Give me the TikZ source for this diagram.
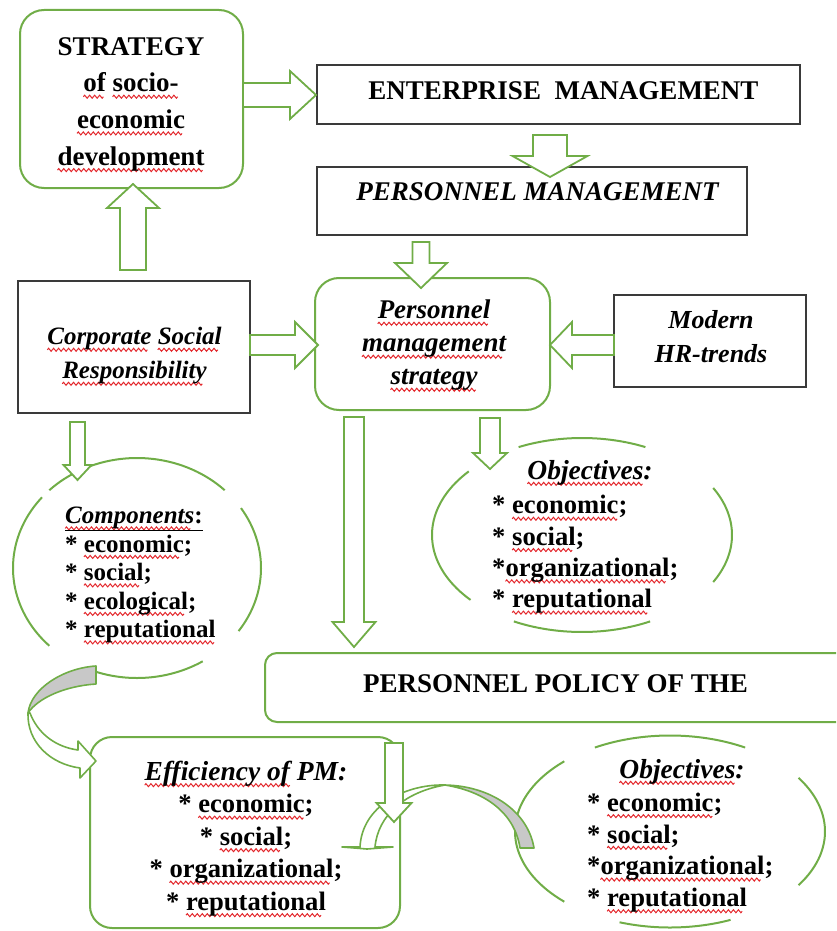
\documentclass[tikz,border=0pt]{standalone}
\usepackage{fontspec}
\setmainfont{Liberation Serif}
\usetikzlibrary{calc}
\definecolor{grn}{HTML}{70AD47}
\definecolor{wred}{HTML}{E3262B}
\definecolor{boxk}{HTML}{3A3A3A}
\definecolor{band}{HTML}{C8C8C8}

% one period of the red spell-check wave, repeated under a word
\newsavebox\wavebox
\newcommand\wv[1]{\setbox0\hbox{#1}\rlap{\raisebox{-4.8pt}[0pt][0pt]{\hbox to \wd0{\leaders\copy\wavebox\hfill}}}\box0\relax}

\tikzset{
  gbox/.style={draw=grn, line width=2pt, fill=white},
  kbox/.style={draw=boxk, line width=1.2pt, fill=white},
  gline/.style={draw=grn, line width=2pt},
  barrow/.style={draw=grn, line width=1.8pt, fill=white, line join=miter},
  cband/.style={draw=grn, line width=1.6pt, line join=round},
  txt/.style={inner sep=0pt, text=black, font=\bfseries\fontsize{27}{31}\selectfont},
  pics/blockarrow/.style args={#1/#2/#3/#4}{code={
    \draw[barrow] (0,-#2) -- ({#1-#4},-#2) -- ({#1-#4},-#3) -- (#1,0)
      -- ({#1-#4},#3) -- ({#1-#4},#2) -- (0,#2) -- cycle;
  }},
}

\begin{document}
\sbox\wavebox{\begin{pgfpicture}
  \pgfpathrectanglecorners{\pgfpoint{0pt}{-1pt}}{\pgfpoint{5pt}{1pt}}
  \pgfusepath{use as bounding box}
  \pgfsetbaseline{0pt}
  \pgfsetlinewidth{1pt}
  \pgfsetstrokecolor{wred}
  \pgfpathmoveto{\pgfpoint{0pt}{0pt}}
  \pgfpathcurveto{\pgfpoint{0.8pt}{2pt}}{\pgfpoint{1.7pt}{2pt}}{\pgfpoint{2.5pt}{0pt}}
  \pgfpathcurveto{\pgfpoint{3.3pt}{-2pt}}{\pgfpoint{4.2pt}{-2pt}}{\pgfpoint{5pt}{0pt}}
  \pgfusepath{stroke}
\end{pgfpicture}}
\begin{tikzpicture}[x=1pt,y=-1pt]
\useasboundingbox (0,0) rectangle (836,931);
\clip (0,0) rectangle (836,931);

% ---- broken ellipses around the lists ----
\foreach \a/\b in {45/135, 140/225, -35/33, -110/-58}
  \draw[gline] plot[domain=\a:\b, samples=40, variable=\t] ({137+124*cos(\t)},{568-110*sin(\t)});
\foreach \a/\b in {65/115, 139/222, -29/29, -117/-63}
  \draw[gline] plot[domain=\a:\b, samples=40, variable=\t] ({582+150*cos(\t)},{535-97*sin(\t)});
\foreach \a/\b in {61/119, 133/227, -34/34, -109/-67}
  \draw[gline] plot[domain=\a:\b, samples=40, variable=\t] ({670+155*cos(\t)},{831.5-96*sin(\t)});

% ---- boxes ----
\node[gbox, rounded corners=24pt, minimum width=223pt, minimum height=178pt] (strat) at (131.5,99) {};
\node[kbox, minimum width=483pt, minimum height=59pt] (ent) at (558.5,94.5) {};
\node[kbox, minimum width=430pt, minimum height=68pt] (pm) at (532,201) {};
\node[gbox, rounded corners=24pt, minimum width=235pt, minimum height=132pt] (pms) at (432.5,344) {};
\node[kbox, minimum width=232pt, minimum height=132pt] (csr) at (134,347) {};
\node[kbox, minimum width=192pt, minimum height=92pt] (hr) at (710,341) {};
\node[gbox, rounded corners=12pt, minimum width=585pt, minimum height=69pt] (pp) at (557.5,687.5) {};
\node[gbox, rounded corners=22pt, minimum width=310pt, minimum height=191pt] (eff) at (245,832.5) {};

% ---- block arrows ----
\pic (a1) at (243,95) {blockarrow=73/12/24/26};
\pic[rotate=-90] (a2) at (550,135) {blockarrow=42/17/37.5/21};
\pic[rotate=-90] (a3) at (421,242) {blockarrow=46/8.5/26/25};
\pic[rotate=90] (a4) at (133,270) {blockarrow=86/13/26/24};
\pic (a5) at (250,345) {blockarrow=68/10/23/23};
\pic[rotate=180] (a6) at (614,345) {blockarrow=64/10/23/22};
\pic[rotate=-90] (a7) at (77.5,422) {blockarrow=58/7.5/14/15};
\pic[rotate=-90] (a8) at (354,417) {blockarrow=230/10/21.5/25};
\pic[rotate=-90] (a9) at (490,418) {blockarrow=51/10/17/16};

% ---- curved arrow: components -> efficiency ----
\draw[cband, fill=band] (96,666) .. controls (64,668) and (31,688) .. (28,713)
  .. controls (38,698) and (65,686) .. (96,684) -- cycle;
\draw[cband, fill=white] (28,713) .. controls (27,742) and (50,764) .. (80,768)
  -- (80,778) -- (96,761) -- (78,741) -- (78,750)
  .. controls (56,747) and (38,734) .. (30,713) -- cycle;

% ---- curved arrow: objectives -> efficiency ----
\draw[cband, fill=band] (534,848) .. controls (528,812) and (492,786) .. (445,785)
  .. controls (488,792) and (515,815) .. (520,848) -- cycle;
\draw[cband, fill=white] (445,785) .. controls (405,784) and (362,806) .. (360,847)
  -- (342,847) -- (367,849) -- (393,847) -- (375,847)
  .. controls (378,815) and (405,792) .. (445,785) -- cycle;

\pic[rotate=-90] (a10) at (394,743) {blockarrow=79/9/17.5/19};

% ---- texts ----
\node[txt, align=center, font=\bfseries\fontsize{27}{36.7}\selectfont] (tstrat) at (131,104.2)
  {STRATEGY\\ \wv{of} \wv{socio-}\\ \wv{economic}\\ \wv{development}};
\node[txt, anchor=base] (tent) at (563.5,100) {ENTERPRISE\ \ MANAGEMENT};
\node[txt, anchor=base, font=\bfseries\itshape\fontsize{27}{31}\selectfont] (tpm) at (537.5,200) {PERSONNEL MANAGEMENT};
\node[txt, align=center, font=\bfseries\itshape\fontsize{27}{33}\selectfont] (tpms) at (434,345.5)
  {\wv{Personnel}\\ \wv{management}\\ \wv{strategy}};
\node[txt, align=center, font=\bfseries\itshape\fontsize{25}{34}\selectfont] (tcsr) at (134.5,356)
  {\wv{Corporate} \wv{Social}\\ \wv{Responsibility}};
\node[txt, align=center, font=\bfseries\itshape\fontsize{26}{34}\selectfont] (thr) at (711,337)
  {Modern\\ HR-trends};
\node[txt, align=left, anchor=west, font=\bfseries\fontsize{25}{28.5}\selectfont] (tcomp) at (65,575)
  {\underline{\wv{\textit{Components}}:}\\ * \wv{economic};\\ * \wv{social};\\ * \wv{ecological};\\ * \wv{reputational}};
\node[txt, anchor=base, font=\bfseries\itshape\fontsize{27.5}{31}\selectfont] (tobj1) at (590,479) {\wv{Objectives}:};
\node[txt, align=left, anchor=west, font=\bfseries\fontsize{26.6}{31.3}\selectfont] (lobj1) at (492,554.5)
  {* \wv{economic};\\ * \wv{social};\\ *\wv{organizational};\\ * \wv{reputational}};
\node[txt, anchor=base] (tpp) at (555.5,692) {PERSONNEL POLICY OF THE};
\node[txt, align=center, font=\bfseries\fontsize{26.6}{32.5}\selectfont] (teff) at (246,838.5)
  {{\itshape\fontsize{27.5}{32.5}\selectfont\wv{Efficiency of} PM:}\\ * \wv{economic};\\ * \wv{social};\\ * \wv{organizational};\\ * \wv{reputational}};
\node[txt, anchor=base, font=\bfseries\itshape\fontsize{27.5}{31}\selectfont] (tobj2) at (682,778) {\wv{Objectives}:};
\node[txt, align=left, anchor=west, font=\bfseries\fontsize{26.6}{31.7}\selectfont] (lobj2) at (587,852.5)
  {* \wv{economic};\\ * \wv{social};\\ *\wv{organizational};\\ * \wv{reputational}};
\end{tikzpicture}
\end{document}
